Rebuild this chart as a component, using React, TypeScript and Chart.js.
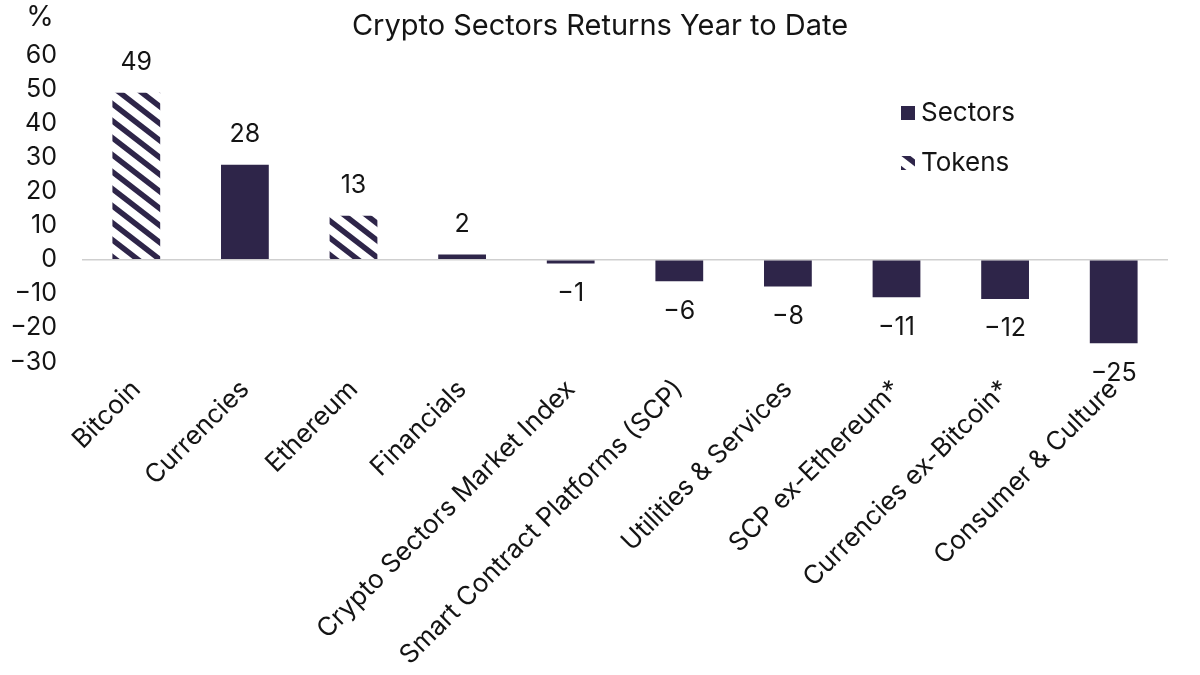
import React, { useEffect, useRef } from 'react';
import { Chart, registerables } from 'chart.js';

Chart.register(...registerables);

const categories = [
  'Bitcoin',
  'Currencies',
  'Ethereum',
  'Financials',
  'Crypto Sectors Market Index',
  'Smart Contract Platforms (SCP)',
  'Utilities & Services',
  'SCP ex-Ethereum*',
  'Currencies ex-Bitcoin*',
  'Consumer & Culture',
];
const sectorValues = [null, 27.8, null, 1.5, -1.1, -6.3, -7.9, -11.0, -11.5, -24.5];
const tokenValues = [48.9, null, 12.9, null, null, null, null, null, null, null];
const valueLabels = ['49', '28', '13', '2', '\u22121', '\u22126', '\u22128', '\u221211', '\u221212', '\u221225'];
const yMin = -30;
const yMax = 60;
const yStep = 10;

const DARK = '#2e2549';
const TEXT = '#141414';
const FONT = 'Inter, "Noto Sans", sans-serif';

function makePattern(): CanvasPattern | string {
  const W = 22;
  const H = 17;
  const c = document.createElement('canvas');
  c.width = W;
  c.height = H;
  const g = c.getContext('2d');
  if (!g) return DARK;
  g.fillStyle = '#ffffff';
  g.fillRect(0, 0, W, H);
  g.strokeStyle = DARK;
  g.lineWidth = 5.5;
  for (let k = -2; k <= 2; k++) {
    g.beginPath();
    g.moveTo(-W, -H + k * H);
    g.lineTo(2 * W, 2 * H + k * H);
    g.stroke();
  }
  const p = g.createPattern(c, 'repeat');
  return p || DARK;
}

export default function App() {
  const ref = useRef<HTMLCanvasElement | null>(null);

  useEffect(() => {
    if (!ref.current) return;
    const pattern = makePattern();

    const overlay = {
      id: 'overlay',
      afterDatasetsDraw(chart: any) {
        const ctx = chart.ctx;
        ctx.save();
        ctx.fillStyle = TEXT;
        ctx.textAlign = 'center';
        ctx.textBaseline = 'middle';
        ctx.font = `25px ${FONT}`;
        const m0 = chart.getDatasetMeta(0);
        const m1 = chart.getDatasetMeta(1);
        for (let i = 0; i < categories.length; i++) {
          const v = sectorValues[i] !== null ? sectorValues[i] : tokenValues[i];
          const meta = sectorValues[i] !== null ? m0 : m1;
          const el = meta.data[i];
          if (!el || v === null) continue;
          const y = (v as number) >= 0 ? el.y - 30 : el.y + 30;
          ctx.fillText(valueLabels[i], el.x, y);
        }
        // title
        ctx.font = `29px ${FONT}`;
        ctx.fillText('Crypto Sectors Returns Year to Date', 600, 26);
        ctx.font = `28px ${FONT}`;
        ctx.fillText('%', 40, 18);
        // legend
        ctx.textAlign = 'left';
        ctx.font = `26px ${FONT}`;
        ctx.fillStyle = DARK;
        ctx.fillRect(901, 106, 14, 14);
        ctx.fillStyle = pattern as any;
        ctx.fillRect(901, 156, 14, 14);
        ctx.fillStyle = TEXT;
        ctx.fillText('Sectors', 921, 113);
        ctx.fillText('Tokens', 921, 163);
        ctx.restore();
      },
    };

    const chart = new Chart(ref.current, {
      type: 'bar',
      data: {
        labels: categories,
        datasets: [
          {
            label: 'Sectors',
            data: sectorValues as any,
            backgroundColor: DARK,
            grouped: false,
            categoryPercentage: 1,
            barPercentage: 0.44,
          } as any,
          {
            label: 'Tokens',
            data: tokenValues as any,
            backgroundColor: pattern as any,
            grouped: false,
            categoryPercentage: 1,
            barPercentage: 0.44,
          } as any,
        ],
      },
      options: {
        animation: false,
        responsive: false,
        maintainAspectRatio: false,
        layout: { padding: { left: 0, right: 32, top: 55, bottom: 0 } },
        plugins: {
          legend: { display: false },
          title: { display: false },
          tooltip: { enabled: false },
        },
        scales: {
          x: {
            grid: { display: false },
            border: { display: false },
            ticks: {
              autoSkip: false,
              maxRotation: 45,
              minRotation: 45,
              padding: 4,
              color: TEXT,
              font: { family: FONT, size: 26 },
            },
            afterFit: (s: any) => {
              s.height = 313;
            },
          },
          y: {
            min: yMin,
            max: yMax,
            grid: {
              drawTicks: false,
              color: (c: any) => (c.tick && c.tick.value === 0 ? '#cfcfcf' : 'rgba(0,0,0,0)'),
              lineWidth: 1.5,
            },
            border: { display: false },
            ticks: {
              stepSize: yStep,
              padding: 25,
              color: TEXT,
              font: { family: FONT, size: 25 },
              callback: (v: any) => (Number(v) < 0 ? '\u2212' + Math.abs(Number(v)) : String(v)),
            },
            afterFit: (s: any) => {
              s.width = 82;
            },
          },
        },
      },
      plugins: [overlay],
    });
    return () => chart.destroy();
  }, []);

  return (
    <div style={{ position: 'fixed', left: 0, top: 0, width: 1200, height: 675, background: '#fff' }}>
      <canvas ref={ref} width={1200} height={675} style={{ width: 1200, height: 675 }} />
    </div>
  );
}
